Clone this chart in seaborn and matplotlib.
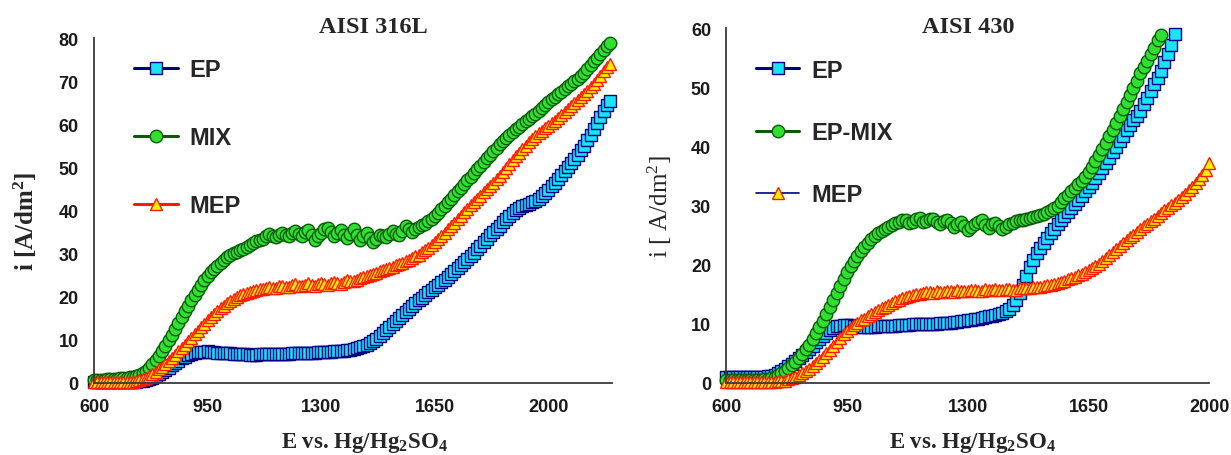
import matplotlib
matplotlib.use("Agg")
import matplotlib.pyplot as plt
from matplotlib.lines import Line2D
import seaborn as sns

# potential grids (mV)
E_316 = list(range(600, 2200, 10))
E_430_EP = list(range(600, 1910, 10))
E_430_MIX = list(range(600, 1870, 10))
E_430_MEP = list(range(600, 2010, 10))

# AISI 316L current density [A/dm2], one row per 100 mV
ep_316 = [0.3, 0.3, 0.3, 0.3, 0.3, 0.3, 0.3, 0.3, 0.3, 0.3,
          0.3, 0.3, 0.3, 0.3, 0.4, 0.5, 0.6, 0.9, 1.2, 1.6,
          2.0, 2.5, 3.0, 3.5, 4.1, 4.6, 5.2, 5.7, 6.1, 6.5,
          6.8, 7.0, 7.1, 7.2, 7.2, 7.3, 7.2, 7.1, 7.0, 7.0,
          6.9, 6.9, 6.9, 6.8, 6.8, 6.8, 6.8, 6.7, 6.6, 6.6,
          6.6, 6.7, 6.7, 6.7, 6.7, 6.8, 6.8, 6.8, 6.8, 6.8,
          6.8, 6.9, 6.9, 6.9, 6.9, 7.0, 7.0, 7.0, 7.0, 7.1,
          7.1, 7.1, 7.2, 7.2, 7.3, 7.3, 7.4, 7.5, 7.6, 7.7,
          7.9, 8.1, 8.3, 8.6, 8.9, 9.3, 9.8, 10.3, 10.9, 11.5,
          12.2, 12.9, 13.6, 14.3, 15.0, 15.7, 16.4, 17.1, 17.8, 18.5,
          19.2, 19.8, 20.4, 21.0, 21.6, 22.2, 22.8, 23.4, 24.0, 24.6,
          25.3, 25.9, 26.6, 27.3, 28.0, 28.7, 29.5, 30.2, 31.0, 31.8,
          32.8, 33.5, 34.3, 35.0, 35.8, 36.5, 37.3, 38.0, 38.8, 39.5,
          40.1, 40.6, 41.0, 41.3, 41.6, 41.9, 42.3, 42.8, 43.4, 44.1,
          44.8, 45.6, 46.4, 47.3, 48.2, 49.1, 50.1, 51.0, 52.0, 53.0,
          54.0, 55.1, 56.3, 57.6, 59.0, 60.4, 61.8, 63.1, 64.5, 65.5]
mix_316 = [0.6, 0.7, 0.8, 0.8, 0.9, 0.9, 1.0, 1.0, 1.1, 1.1,
           1.2, 1.3, 1.4, 1.6, 1.9, 2.3, 2.8, 3.5, 4.3, 5.3,
           6.3, 7.4, 8.6, 9.9, 11.2, 12.5, 13.9, 15.2, 16.6, 17.9,
           19.2, 20.4, 21.6, 22.7, 23.8, 24.8, 25.7, 26.5, 27.2, 27.9,
           28.6, 29.3, 29.8, 30.2, 30.4, 30.9, 31.2, 31.6, 31.9, 32.5,
           32.9, 33.1, 33.4, 34.2, 34.6, 34.0, 33.8, 34.4, 34.9, 34.3,
           34.2, 34.9, 35.3, 34.5, 34.0, 35.0, 35.6, 34.3, 33.1, 34.0,
           34.8, 35.7, 35.9, 35.1, 34.2, 34.9, 35.5, 34.4, 33.7, 34.6,
           35.8, 34.4, 33.2, 34.1, 34.9, 33.7, 32.6, 33.5, 34.4, 34.0,
           33.9, 34.6, 35.2, 34.5, 34.3, 35.3, 36.4, 35.7, 35.1, 35.7,
           36.3, 36.6, 37.0, 37.5, 38.0, 38.7, 39.5, 40.3, 41.1, 41.9,
           42.8, 43.6, 44.5, 45.3, 46.2, 47.0, 47.9, 48.7, 49.6, 50.4,
           51.3, 52.1, 53.0, 53.8, 54.6, 55.4, 56.2, 56.9, 57.6, 58.3,
           58.9, 59.5, 60.1, 60.7, 61.3, 61.9, 62.5, 63.2, 63.8, 64.5,
           65.1, 65.8, 66.4, 67.0, 67.6, 68.2, 68.8, 69.4, 70.0, 70.6,
           71.3, 72.0, 72.8, 73.7, 74.6, 75.5, 76.4, 77.3, 78.2, 78.8]
mep_316 = [0.2, 0.2, 0.2, 0.2, 0.2, 0.2, 0.2, 0.2, 0.2, 0.2,
           0.2, 0.2, 0.3, 0.4, 0.6, 0.9, 1.2, 1.6, 2.1, 2.6,
           3.2, 3.8, 4.5, 5.2, 5.9, 6.6, 7.4, 8.1, 8.9, 9.7,
           10.5, 11.3, 12.1, 12.9, 13.7, 14.5, 15.2, 15.9, 16.6, 17.3,
           17.9, 18.5, 19.0, 19.5, 19.9, 20.3, 20.6, 20.9, 21.2, 21.4,
           21.6, 21.8, 21.9, 22.1, 22.3, 22.1, 22.0, 22.4, 22.6, 22.3,
           22.3, 22.7, 22.9, 22.5, 22.4, 22.8, 23.1, 22.7, 22.6, 23.0,
           23.2, 22.9, 22.8, 23.2, 23.5, 23.1, 23.0, 23.5, 23.8, 23.6,
           23.6, 24.0, 24.3, 24.6, 24.9, 25.1, 25.3, 25.6, 25.9, 26.1,
           26.4, 26.7, 27.0, 27.3, 27.6, 27.9, 28.3, 28.6, 29.0, 29.4,
           29.8, 30.3, 30.9, 31.4, 32.0, 32.7, 33.4, 34.1, 34.9, 35.7,
           36.5, 37.2, 38.0, 38.8, 39.6, 40.4, 41.2, 41.9, 42.7, 43.4,
           44.2, 45.0, 45.8, 46.5, 47.3, 48.1, 49.0, 49.9, 50.8, 51.7,
           52.6, 53.4, 54.3, 55.1, 55.9, 56.6, 57.3, 57.9, 58.5, 59.1,
           59.7, 60.3, 60.9, 61.5, 62.2, 62.8, 63.5, 64.2, 64.9, 65.6,
           66.3, 67.0, 67.8, 68.6, 69.4, 70.3, 71.2, 72.3, 73.4, 74.0]

# AISI 430 current density [A/dm2]
ep_430 = [1.0, 1.0, 1.0, 1.0, 1.0, 1.0, 1.0, 1.0, 1.0, 1.0,
          1.0, 1.0, 1.1, 1.2, 1.4, 1.7, 2.0, 2.4, 2.8, 3.2,
          3.7, 4.2, 4.7, 5.2, 5.8, 6.3, 6.9, 7.4, 8.0, 8.5,
          9.0, 9.3, 9.6, 9.7, 9.8, 9.8, 9.8, 9.7, 9.6, 9.5,
          9.5, 9.5, 9.5, 9.5, 9.6, 9.6, 9.6, 9.6, 9.7, 9.7,
          9.8, 9.8, 9.8, 9.8, 9.9, 9.9, 9.9, 9.9, 9.9, 10.0,
          10.0, 10.0, 10.1, 10.1, 10.2, 10.2, 10.3, 10.3, 10.4, 10.5,
          10.6, 10.7, 10.8, 10.9, 11.0, 11.1, 11.3, 11.4, 11.5, 11.6,
          11.8, 12.1, 12.5, 13.2, 14.0, 15.2, 16.6, 18.1, 19.6, 20.8,
          21.9, 22.8, 23.7, 24.5, 25.3, 26.0, 26.8, 27.5, 28.2, 28.9,
          29.6, 30.3, 31.0, 31.7, 32.4, 33.1, 33.9, 34.7, 35.5, 36.3,
          37.2, 38.1, 39.0, 39.9, 40.9, 41.8, 42.8, 43.6, 44.4, 45.2,
          46.0, 47.1, 48.2, 49.3, 50.5, 51.6, 52.8, 54.2, 55.6, 57.2,
          59.0]
mix_430 = [0.5, 0.5, 0.5, 0.5, 0.5, 0.5, 0.5, 0.5, 0.5, 0.5,
           0.5, 0.6, 0.7, 0.8, 1.0, 1.3, 1.6, 2.0, 2.5, 3.0,
           3.6, 4.2, 4.9, 5.7, 6.5, 7.4, 8.4, 9.4, 10.5, 11.6,
           12.8, 14.0, 15.2, 16.4, 17.6, 18.7, 19.7, 20.6, 21.5, 22.3,
           23.0, 23.7, 24.3, 24.8, 25.3, 25.7, 26.1, 26.4, 26.7, 27.0,
           27.2, 27.5, 27.6, 27.0, 27.3, 27.8, 27.9, 27.2, 27.4, 27.7,
           27.8, 27.3, 26.9, 27.4, 27.6, 27.1, 26.4, 26.9, 27.3, 26.6,
           25.9, 26.4, 26.8, 27.3, 27.5, 26.7, 26.2, 26.8, 27.1, 26.5,
           26.0, 26.4, 26.8, 27.1, 27.4, 27.5, 27.6, 27.8, 27.9, 28.1,
           28.2, 28.4, 28.6, 28.9, 29.2, 29.6, 30.0, 30.6, 31.2, 31.8,
           32.5, 33.0, 33.6, 34.2, 34.9, 35.7, 36.6, 37.5, 38.5, 39.5,
           40.6, 41.7, 42.8, 43.9, 45.1, 46.3, 47.5, 48.7, 49.9, 51.1,
           52.4, 53.4, 54.5, 55.6, 56.6, 58.0, 58.9]
mep_430 = [0.2, 0.2, 0.2, 0.2, 0.2, 0.2, 0.2, 0.2, 0.2, 0.2,
           0.2, 0.2, 0.2, 0.2, 0.2, 0.3, 0.3, 0.4, 0.6, 0.8,
           1.0, 1.3, 1.6, 2.0, 2.4, 2.8, 3.3, 3.8, 4.4, 5.0,
           5.6, 6.2, 6.9, 7.6, 8.2, 8.8, 9.3, 9.8, 10.2, 10.6,
           10.9, 11.3, 11.6, 12.0, 12.3, 12.6, 12.9, 13.2, 13.5, 13.8,
           14.0, 14.3, 14.5, 14.7, 14.8, 15.0, 15.1, 15.2, 15.3, 15.3,
           15.2, 15.5, 15.4, 15.3, 15.6, 15.5, 15.4, 15.7, 15.6, 15.5,
           15.5, 15.7, 15.8, 15.6, 15.6, 15.9, 15.8, 15.7, 15.9, 15.8,
           15.7, 15.9, 15.9, 15.8, 15.8, 16.0, 16.0, 16.1, 16.1, 16.2,
           16.2, 16.3, 16.4, 16.5, 16.6, 16.7, 16.9, 17.1, 17.3, 17.5,
           17.7, 17.9, 18.2, 18.5, 18.8, 19.1, 19.4, 19.8, 20.2, 20.6,
           21.1, 21.6, 22.1, 22.6, 23.1, 23.6, 24.1, 24.6, 25.1, 25.6,
           26.0, 26.5, 26.9, 27.4, 27.8, 28.3, 28.7, 29.2, 29.6, 30.1,
           30.5, 31.0, 31.5, 32.0, 32.6, 33.2, 33.8, 34.5, 35.2, 36.0,
           37.2]

NAVY = "#000080"
CYAN = "#19E3F5"
DKGREEN = "#0B5A0B"
GREEN = "#2FE02F"
RED = "#FF1A00"
YELLOW = "#FFF200"

STYLES = {
    "EP": dict(color=NAVY, marker="s", markerfacecolor=CYAN, markeredgecolor=NAVY),
    "MIX": dict(color=DKGREEN, marker="o", markerfacecolor=GREEN, markeredgecolor=DKGREEN),
    "MEP": dict(color=RED, marker="^", markerfacecolor=YELLOW, markeredgecolor=RED),
}

sns.set_style("white")
plt.rcParams["font.family"] = ["Liberation Sans", "DejaVu Sans"]
plt.rcParams["mathtext.fontset"] = "custom"
plt.rcParams["mathtext.rm"] = "Liberation Serif"
plt.rcParams["mathtext.bf"] = "Liberation Serif:bold"
plt.rcParams["mathtext.it"] = "Liberation Serif:italic"

fig = plt.figure(figsize=(12.31, 4.56), dpi=100)
ax1 = fig.add_axes([0.0764, 0.158, 0.4208, 0.756])
ax2 = fig.add_axes([0.590, 0.158, 0.3924, 0.778])


def draw(ax, x, y, key):
    sns.lineplot(x=x, y=y, ax=ax, estimator=None, sort=False, legend=False,
                 linewidth=2.4, markersize=9, markeredgewidth=1, clip_on=False,
                 **STYLES[key])


def style_axes(ax, xmax, ymax):
    ax.set_xlim(600, xmax)
    ax.set_ylim(0, ymax)
    ax.set_xticks([600, 950, 1300, 1650, 2000])
    ax.set_yticks(range(0, ymax + 1, 10))
    for side in ["top", "right"]:
        ax.spines[side].set_visible(False)
    for side in ["left", "bottom"]:
        ax.spines[side].set_color("#3a3a3a")
        ax.spines[side].set_linewidth(1.3)
    ax.tick_params(direction="out", length=5, width=1.2, color="#3a3a3a",
                   labelsize=13, labelcolor="#1a1a1a", pad=6)
    for lab in ax.get_xticklabels() + ax.get_yticklabels():
        lab.set_fontweight("bold")
    ax.set_xlabel("")
    ax.set_ylabel("")


def handle(key, lw=2.2, color=None):
    st = dict(STYLES[key])
    if color:
        st["color"] = color
    return Line2D([], [], linewidth=lw, markersize=9, markeredgewidth=1, **st)


# AISI 316L
draw(ax1, E_316, ep_316, "EP")
draw(ax1, E_316, mix_316, "MIX")
draw(ax1, E_316, mep_316, "MEP")
style_axes(ax1, 2196, 80)
ax1.text(0.54, 1.035, "AISI 316L", transform=ax1.transAxes, ha="center", va="center",
         family="Liberation Serif", fontweight="bold", fontsize=17.5)
ax1.legend(handles=[handle("EP"), handle("MIX"), handle("MEP")],
           labels=["EP", "MIX", "MEP"], loc="upper left", bbox_to_anchor=(0.036, 1.003),
           frameon=False, handlelength=1.85, handletextpad=0.5, labelspacing=1.9,
           prop=dict(family="Liberation Sans", weight="bold", size=17))

# AISI 430
draw(ax2, E_430_EP, ep_430, "EP")
draw(ax2, E_430_MIX, mix_430, "MIX")
draw(ax2, E_430_MEP, mep_430, "MEP")
style_axes(ax2, 2000, 60)
ax2.text(0.50, 1.004, "AISI 430", transform=ax2.transAxes, ha="center", va="center",
         family="Liberation Serif", fontweight="bold", fontsize=17.5)
ax2.legend(handles=[handle("EP"), handle("MIX"), handle("MEP", lw=1.2, color=NAVY)],
           labels=["EP", "EP-MIX", "MEP"], loc="upper left", bbox_to_anchor=(0.017, 0.974),
           frameon=False, handlelength=1.85, handletextpad=0.5, labelspacing=1.66,
           prop=dict(family="Liberation Sans", weight="bold", size=17))

# axis titles
fig.text(25 / 1231, 1 - 221 / 456, r"i [A/dm$^\mathbf{2}$]", rotation=90, ha="center", va="center",
         family="Liberation Serif", fontweight="bold", fontsize=18)
fig.text(660 / 1231, 1 - 207 / 456, r"i [ A/dm$^2$]", rotation=90, ha="center", va="center",
         family="Liberation Serif", fontsize=18)
for xc in [364, 972]:
    fig.text(xc / 1231, 1 - 443 / 456, r"E vs. Hg/Hg$_\mathbf{2}$SO$_\mathbf{4}$", ha="center",
             va="center", family="Liberation Serif", fontweight="bold", fontsize=16.5)

fig.savefig("out.png", dpi=100)
